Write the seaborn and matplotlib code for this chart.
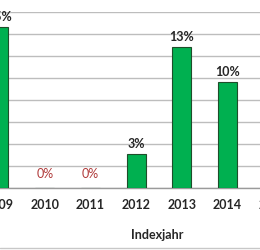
import matplotlib
matplotlib.use("Agg")
import matplotlib.pyplot as plt
import seaborn as sns
import pandas as pd

years = ["2009", "2010", "2011", "2012", "2013", "2014", "2015"]
values = [14.6, 0.0, 0.0, 3.1, 12.8, 9.6, 0.0]
labels = ["15%", "0%", "0%", "3%", "13%", "10%", ""]
xlabel = "Indexjahr"

sns.set_style("white")
plt.rcParams["font.family"] = ["Lato", "DejaVu Sans"]

df = pd.DataFrame({"year": years, "value": values})

fig = plt.figure(figsize=(2.6, 2.5), dpi=100)
ax = fig.add_axes([-23.7 / 260, 62 / 250, 319.7 / 260, 176 / 250])

sns.barplot(data=df, x="year", y="value", color="#00B050", saturation=1,
            width=0.41, edgecolor="#1f4d2a", linewidth=0.8, ax=ax, zorder=3)

ax.set_ylim(0, 16)
ax.set_xlim(-0.5, 6.5)
ax.set_yticks(range(0, 17, 2))
ax.yaxis.grid(True, color="#bdbdbd", linewidth=1.0, zorder=0)
ax.set_axisbelow(True)
ax.tick_params(axis="y", left=False, labelleft=False)
for s in ["top", "right", "left"]:
    ax.spines[s].set_visible(False)
ax.spines["bottom"].set_color("#9a9a9a")
ax.spines["bottom"].set_linewidth(1.0)

ax.set_xticks([i for i in range(len(years))])
ax.set_xticklabels(years, fontsize=9, fontweight="bold", color="#262626")
ax.set_xticks([i + 0.5 for i in range(-1, len(years))], minor=True)
ax.tick_params(axis="x", which="major", length=0, pad=8)
ax.tick_params(axis="x", which="minor", length=4, color="#9a9a9a", width=1)

for i, (v, lab) in enumerate(zip(values, labels)):
    if not lab:
        continue
    col = "#b03a3a" if v == 0 else "#262626"
    off = 0.7 if v == 0 else 0.4
    ax.text(i, v + off, lab, ha="center", va="bottom", fontsize=9,
            color=col, fontweight="normal" if v == 0 else "bold")

ax.set_xlabel(xlabel, fontsize=9, fontweight="bold", color="#262626")
ax.set_ylabel("")
ax.xaxis.set_label_coords((157 + 23.7) / 319.7, -(229 - 188) / 176)

fig.add_artist(plt.Line2D([0, 1], [2 / 250, 2 / 250], color="#c8c8c8", linewidth=1.0))

fig.savefig("out.png", dpi=100)
